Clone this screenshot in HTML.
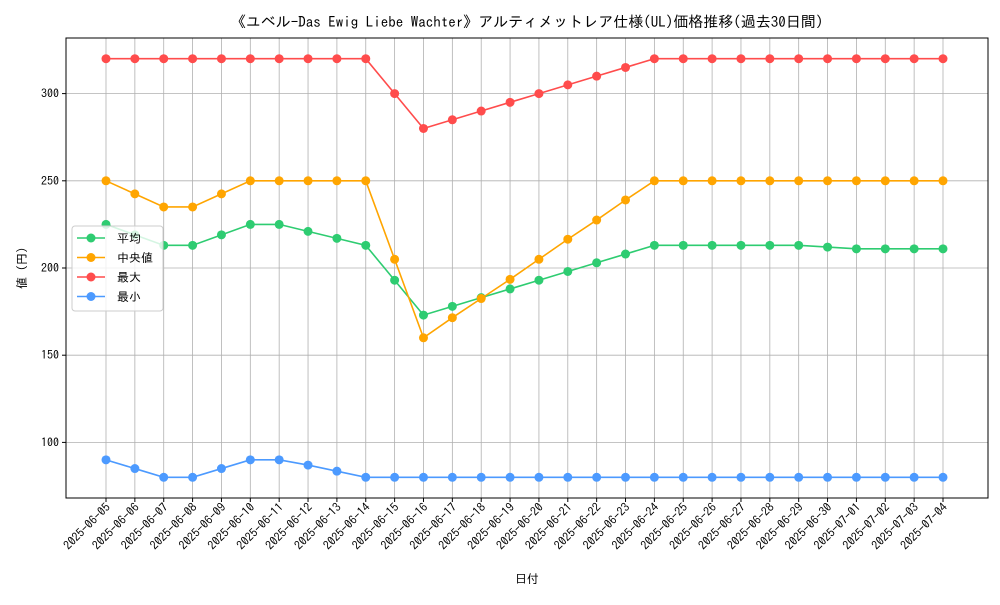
<!DOCTYPE html>
<html><head><meta charset="utf-8"><style>
body{margin:0;background:#fff}
svg text{font-family:"IPAGothic","Noto Sans CJK JP",monospace}
</style></head><body>
<svg id="chart" width="1000" height="600" xmlns="http://www.w3.org/2000/svg">
<rect width="1000" height="600" fill="#fff"/>
<text x="527" y="27" text-anchor="middle" font-size="15">《ユベル-Das Ewig Liebe Wachter》アルティメットレア仕様(UL)価格推移(過去30日間)</text>
<g id="grid"></g><g id="axes"></g><g id="series"></g>
<text x="527" y="583" text-anchor="middle" font-size="12">日付</text>
<text transform="translate(26,268) rotate(-90)" text-anchor="middle" font-size="12">値 (円)</text>
<g>
<rect x="72" y="226" width="91" height="85" rx="3" fill="#fff" fill-opacity="0.8" stroke="#ccc"/>
<g id="legend-items"></g>
</g>
</svg>
<script>
const dates=["2025-06-05","2025-06-06","2025-06-07","2025-06-08","2025-06-09","2025-06-10","2025-06-11","2025-06-12","2025-06-13","2025-06-14","2025-06-15","2025-06-16","2025-06-17","2025-06-18","2025-06-19","2025-06-20","2025-06-21","2025-06-22","2025-06-23","2025-06-24","2025-06-25","2025-06-26","2025-06-27","2025-06-28","2025-06-29","2025-06-30","2025-07-01","2025-07-02","2025-07-03","2025-07-04"];
const meanVals=[225,219,213,213,219,225,225,221,217,213,193,173,178,183,188,193,198,203,208,213,213,213,213,213,213,212,211,211,211,211];
const medianVals=[250,242.5,235,235,242.5,250,250,250,250,250,205,160,171.5,182.5,193.5,205,216.5,227.5,239,250,250,250,250,250,250,250,250,250,250,250];
const maxVals=[320,320,320,320,320,320,320,320,320,320,300,280,285,290,295,300,305,310,315,320,320,320,320,320,320,320,320,320,320,320];
const minVals=[90,85,80,80,85,90,90,87,83.5,80,80,80,80,80,80,80,80,80,80,80,80,80,80,80,80,80,80,80,80,80];
const yTicks=[100,150,200,250,300];
const names=["平均","中央値","最大","最小"];
const NS="http://www.w3.org/2000/svg";
const L=66,R=988,T=38,B=498;
const x=i=>106+i*(943-106)/(dates.length-1);
const y=v=>268-(v-200)*(87.2/50);
function mk(tag,attrs,parent){const e=document.createElementNS(NS,tag);for(const k in attrs)e.setAttribute(k,attrs[k]);parent.appendChild(e);return e;}
const grid=document.getElementById('grid'),axes=document.getElementById('axes'),ser=document.getElementById('series');
dates.forEach((d,i)=>{
 const g=mk('line',{x1:x(i),x2:x(i),y1:T,y2:B,stroke:'#b0b0b0','stroke-width':0.8},grid);
 
 
 mk('line',{x1:x(i),x2:x(i),y1:B,y2:B+4,stroke:'#000'},axes);
 const t=mk('text',{transform:`translate(${x(i)+5},${B+10}) rotate(-45)`,'text-anchor':'end','font-size':12},axes);
 
 
 t.textContent=d;
});
yTicks.forEach(v=>{
 const g=mk('line',{x1:L,x2:R,y1:y(v),y2:y(v),stroke:'#b0b0b0','stroke-width':0.8},grid);
 
 
 mk('line',{x1:L-4,x2:L,y1:y(v),y2:y(v),stroke:'#000'},axes);
 const t=mk('text',{x:L-7,y:y(v)+4,'text-anchor':'end','font-size':12},axes);
 
 
 t.textContent=v;
});
const frame=mk('rect',{x:L,y:T,width:R-L,height:B-T,fill:'none',stroke:'#000','stroke-width':1},axes);


const series=[[meanVals,'#2ecc71','mean'],[medianVals,'#ffa500','median'],[maxVals,'#ff4c4c','max'],[minVals,'#4c9aff','min']];
series.forEach(([vals,c,n],si)=>{
 const g=mk('g',{},ser);
 
 
 const p=mk('polyline',{points:vals.map((v,i)=>x(i)+','+y(v)).join(' '),fill:'none',stroke:c,'stroke-width':1.6},g);
 
 
 vals.forEach((v,i)=>{const m=mk('circle',{cx:x(i),cy:y(v),r:4.5,fill:c},g);
  
  });
 const lg=document.getElementById('legend-items');
 const ly=238+si*19.5;
 const e=mk('g',{},lg);
 
 
 mk('line',{x1:77,x2:105,y1:ly,y2:ly,stroke:c,'stroke-width':1.6},e);
 mk('circle',{cx:91,cy:ly,r:4.5,fill:c},e);
 const t=mk('text',{x:117,y:ly+4.5,'font-size':12},e);t.textContent=names[si];
});
</script>
</body></html>
